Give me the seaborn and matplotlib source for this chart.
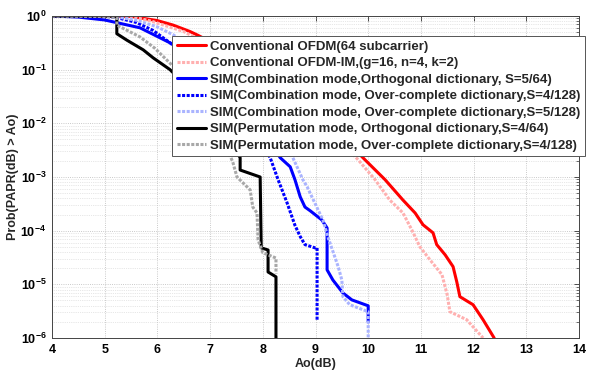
import matplotlib
matplotlib.use('Agg')
import matplotlib.pyplot as plt
import seaborn as sns
import numpy as np
from matplotlib.ticker import FixedLocator, FixedFormatter, LogLocator, NullFormatter

# 곡선 데이터 (x: dB, 값은 log10 확률)
ofdm_x = [4, 5, 5.5, 6.0, 6.3, 6.62, 6.77, 7.2, 7.7, 8.2, 8.7, 9.2, 9.6, 9.94, 10.32, 10.66,
          10.89, 11.04, 11.23, 11.30, 11.46, 11.61, 11.68, 11.74, 11.99, 12.18, 12.39]
ofdm_e = [0, -0.001, -0.007, -0.086, -0.17, -0.29, -0.36, -0.58, -0.88, -1.22, -1.58, -1.98, -2.34,
          -2.68, -3.05, -3.43, -3.67, -3.89, -4.04, -4.26, -4.45, -4.67, -4.95, -5.23, -5.38, -5.66, -6.0]

im_x = [4, 5, 5.5, 5.9, 6.5, 7.1, 7.6, 8.1, 8.6, 9.1, 9.5, 9.81, 10.13, 10.41, 10.66, 10.83,
        10.98, 11.17, 11.40, 11.50, 11.55, 11.87, 12.18]
im_e = [0, -0.001, -0.008, -0.1, -0.29, -0.6, -0.9, -1.24, -1.6, -2.0, -2.36, -2.68, -3.05,
        -3.43, -3.67, -3.99, -4.30, -4.54, -4.82, -5.20, -5.51, -5.66, -6.0]

c_orth_x = [4, 4.5, 5.0, 5.67, 6.24, 6.7, 7.2, 7.7, 8.0, 8.33, 8.52, 8.61, 8.71, 8.80, 8.90,
            9.12, 9.22, 9.22, 9.33, 9.52, 9.69, 10.0, 10.0]
c_orth_e = [0, -0.02, -0.074, -0.22, -0.50, -0.8, -1.25, -1.75, -2.15, -2.64, -2.81, -3.05,
            -3.37, -3.56, -3.63, -3.80, -3.95, -4.73, -4.92, -5.16, -5.29, -5.40, -5.70]

c_oc4_x = [4, 5, 5.23, 5.6, 5.92, 6.24, 6.7, 7.2, 7.7, 8.14, 8.29, 8.46, 8.61, 8.71, 8.80,
           8.99, 9.03, 9.03]
c_oc4_e = [0, -0.004, -0.03, -0.12, -0.27, -0.5, -0.85, -1.32, -1.9, -2.64, -3.05, -3.48,
           -3.9, -4.11, -4.26, -4.32, -4.32, -5.66]

c_oc5_x = [4, 5, 5.23, 5.6, 5.99, 6.3, 6.8, 7.3, 7.8, 8.2, 8.57, 8.76, 8.84, 9.14, 9.24,
           9.43, 9.50, 9.52, 9.65, 10.0, 10.0]
c_oc5_e = [0, -0.003, -0.015, -0.08, -0.2, -0.35, -0.7, -1.1, -1.55, -2.05, -2.64, -3.05,
           -3.18, -3.80, -4.13, -4.67, -4.92, -5.23, -5.38, -5.51, -6.0]

p_orth_x = [4, 5.0, 5.23, 5.23, 5.42, 5.73, 5.92, 6.24, 6.6, 7.0, 7.3, 7.57, 7.57, 7.95,
            7.97, 8.10, 8.10, 8.25, 8.25]
p_orth_e = [0, -0.002, -0.005, -0.33, -0.45, -0.63, -0.78, -1.0, -1.35, -1.8, -2.2, -2.64,
            -2.87, -3.0, -4.32, -4.36, -4.77, -4.86, -6.0]

p_oc_x = [4, 5.0, 5.23, 5.23, 5.67, 5.95, 6.24, 6.6, 7.0, 7.2, 7.43, 7.51, 7.76, 7.81, 7.89,
          7.91, 8.0, 8.25, 8.25]
p_oc_e = [0, -0.01, -0.03, -0.17, -0.39, -0.6, -0.88, -1.25, -1.8, -2.2, -2.72, -3.0, -3.24,
          -3.56, -3.67, -4.17, -4.41, -4.51, -4.8]

labels = ['Conventional OFDM(64 subcarrier)',
          'Conventional OFDM-IM,(g=16, n=4, k=2)',
          'SIM(Combination mode,Orthogonal dictionary, S=5/64)',
          'SIM(Combination mode, Over-complete dictionary,S=4/128)',
          'SIM(Combination mode, Over-complete dictionary,S=5/128)',
          'SIM(Permutation mode, Orthogonal dictionary,S=4/64)',
          'SIM(Permutation mode, Over-complete dictionary,S=4/128)']

x_ticks = list(range(4, 15))
y_exps = [-6, -5, -4, -3, -2, -1, 0]

series = [(ofdm_x, ofdm_e), (im_x, im_e), (c_orth_x, c_orth_e), (c_oc4_x, c_oc4_e),
          (c_oc5_x, c_oc5_e), (p_orth_x, p_orth_e), (p_oc_x, p_oc_e)]
colors = ['#ff0000', '#ffb0b0', '#0000ff', '#0000ff', '#aab4ff', '#000000', '#a8a8a8']
dotted = (0, (1, 0.5))
styles = ['-', dotted, '-', dotted, dotted, '-', dotted]

sns.set_style('white')
plt.rcParams['font.family'] = ['Liberation Sans', 'DejaVu Sans']
plt.rcParams['font.weight'] = 'bold'
plt.rcParams['mathtext.fontset'] = 'custom'
plt.rcParams['mathtext.bf'] = 'Liberation Sans:bold'
plt.rcParams['mathtext.rm'] = 'Liberation Sans:bold'

fig = plt.figure(figsize=(5.89, 3.71), dpi=100)
ax = fig.add_axes([52 / 589, 1 - 338 / 371, 527 / 589, 322 / 371])

for (xs, es), c, ls, lab in zip(series, colors, styles, labels):
    sns.lineplot(x=xs, y=10.0 ** np.array(es), ax=ax, color=c, linestyle=ls, linewidth=2.2,
                 label=lab, estimator=None, sort=False)

ax.set_yscale('log')
ax.set_xlim(4, 14)
ax.set_ylim(1e-6, 1)
ax.xaxis.set_major_locator(FixedLocator(x_ticks))
ax.set_xticklabels([str(t) for t in x_ticks], fontsize=9, fontweight='bold')
ax.yaxis.set_major_locator(FixedLocator([10.0 ** e for e in y_exps]))
ax.yaxis.set_major_formatter(FixedFormatter([r'$\mathbf{10^{%d}}$' % e for e in y_exps]))
ax.yaxis.set_minor_locator(LogLocator(base=10, subs=np.arange(2, 10)))
ax.yaxis.set_minor_formatter(NullFormatter())
for lab in ax.get_yticklabels():
    lab.set_fontsize(9)

ax.tick_params(which='both', direction='in', top=True, right=True, colors='#333333', labelcolor='black')
ax.tick_params(which='major', length=3.5, width=0.6, pad=4)
ax.tick_params(which='minor', length=2, width=0.5)
ax.grid(which='major', linestyle=':', color='#b8b8b8', linewidth=0.6)
ax.grid(which='minor', axis='y', linestyle=':', color='#d0d0d0', linewidth=0.5)
for s in ax.spines.values():
    s.set_color('#444444')
    s.set_linewidth(0.7)

ax.set_xlabel('Ao(dB)', fontsize=9, fontweight='bold', labelpad=2)
ax.set_ylabel('Prob(PAPR(dB) > Ao)', fontsize=9, fontweight='bold', labelpad=1)

leg = ax.legend(loc='upper left', bbox_to_anchor=(120 / 527, 302 / 322), borderaxespad=0,
                prop={'size': 9.5, 'weight': 'bold'}, frameon=True, fancybox=False,
                framealpha=1, edgecolor='#555555', handlelength=2.2, handletextpad=0.3,
                labelspacing=0.32, borderpad=0.35)
leg.get_frame().set_linewidth(0.7)
leg.set_zorder(5)

fig.savefig('out.png', dpi=100)
